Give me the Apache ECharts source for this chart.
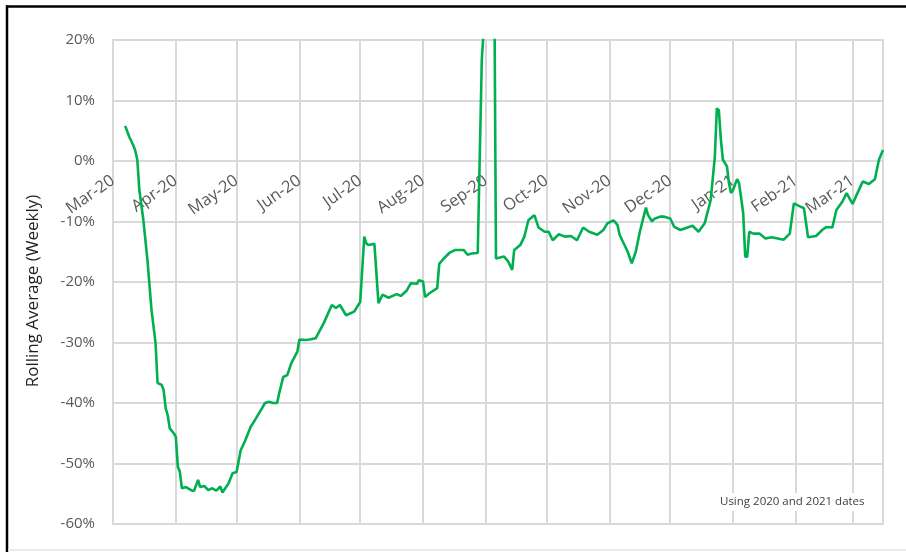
<!DOCTYPE html>
<html>
<head>
<meta charset="utf-8">
<script src="https://cdn.jsdelivr.net/npm/echarts@6/dist/echarts.min.js"></script>
<style>
html,body{margin:0;padding:0;background:#fff;}
#chart{width:906px;height:552px;}
</style>
</head>
<body>
<div id="chart"></div>
<script>
// ---- data ----
const dates = [
 '2020-03-07','2020-03-09','2020-03-11','2020-03-12','2020-03-13','2020-03-14','2020-03-16','2020-03-18','2020-03-20','2020-03-22',
 '2020-03-23','2020-03-25','2020-03-26','2020-03-27','2020-03-28','2020-03-29','2020-03-31','2020-04-01','2020-04-02','2020-04-03',
 '2020-04-04','2020-04-06','2020-04-09','2020-04-10','2020-04-12','2020-04-13','2020-04-15','2020-04-17','2020-04-19','2020-04-21',
 '2020-04-23','2020-04-24','2020-04-27','2020-04-29','2020-05-01','2020-05-03','2020-05-05','2020-05-08','2020-05-09','2020-05-14',
 '2020-05-15','2020-05-17','2020-05-19','2020-05-21','2020-05-22','2020-05-24','2020-05-26','2020-05-28','2020-05-31','2020-06-01',
 '2020-06-04','2020-06-06','2020-06-09','2020-06-13','2020-06-17','2020-06-19','2020-06-21','2020-06-24','2020-06-26','2020-06-28',
 '2020-07-01','2020-07-03','2020-07-04','2020-07-05','2020-07-08','2020-07-10','2020-07-12','2020-07-15','2020-07-19','2020-07-21',
 '2020-07-24','2020-07-26','2020-07-29','2020-07-30','2020-08-01','2020-08-02','2020-08-04','2020-08-08','2020-08-09','2020-08-11',
 '2020-08-14','2020-08-17','2020-08-21','2020-08-23','2020-08-25','2020-08-28','2020-08-30','2020-08-31','2020-09-01','2020-09-03',
 '2020-09-05','2020-09-06','2020-09-10','2020-09-12','2020-09-14','2020-09-15','2020-09-18','2020-09-20','2020-09-22','2020-09-24',
 '2020-09-25','2020-09-27','2020-09-30','2020-10-02','2020-10-04','2020-10-07','2020-10-10','2020-10-13','2020-10-16','2020-10-19',
 '2020-10-22','2020-10-26','2020-10-29','2020-10-31','2020-11-03','2020-11-05','2020-11-06','2020-11-10','2020-11-12','2020-11-14',
 '2020-11-16','2020-11-19','2020-11-20','2020-11-22','2020-11-23','2020-11-26','2020-11-28','2020-12-01','2020-12-03','2020-12-06',
 '2020-12-12','2020-12-15','2020-12-18','2020-12-21','2020-12-23','2020-12-24','2020-12-25','2020-12-26','2020-12-27','2020-12-29',
 '2020-12-30','2020-12-31','2021-01-01','2021-01-03','2021-01-04','2021-01-06','2021-01-07','2021-01-08','2021-01-09','2021-01-11',
 '2021-01-14','2021-01-17','2021-01-20','2021-01-23','2021-01-26','2021-01-29','2021-01-31','2021-02-03','2021-02-05','2021-02-07',
 '2021-02-11','2021-02-14','2021-02-16','2021-02-19','2021-02-21','2021-02-24','2021-02-26','2021-03-01','2021-03-03','2021-03-06',
 '2021-03-09','2021-03-12','2021-03-14','2021-03-16'
];
const rollingAvg = [
 5.8,4.0,2.6,1.7,0.2,-4.8,-9.8,-16.4,-24.6,-30.1,
 -36.7,-37.0,-37.9,-40.9,-42.0,-44.2,-45.0,-45.6,-50.5,-51.4,
 -54.1,-53.9,-54.5,-54.5,-52.7,-53.9,-53.7,-54.4,-54.1,-54.5,
 -53.8,-54.8,-53.3,-51.6,-51.4,-47.8,-46.4,-43.9,-43.4,-40.6,
 -40.0,-39.8,-40.0,-40.0,-38.4,-35.7,-35.4,-33.4,-31.5,-29.5,
 -29.6,-29.5,-29.3,-26.8,-23.8,-24.3,-23.8,-25.5,-25.2,-24.9,
 -23.3,-12.5,-13.6,-13.9,-13.7,-23.5,-22.1,-22.6,-22.0,-22.3,
 -21.4,-20.2,-20.3,-19.7,-19.9,-22.5,-21.9,-21.0,-17.0,-16.2,
 -15.2,-14.7,-14.7,-15.5,-15.3,-15.2,16.7,22.0,45.0,48.0,
 40.0,-16.1,-15.8,-16.6,-18.0,-14.7,-13.9,-12.5,-9.8,-9.2,
 -9.0,-11.0,-11.7,-11.7,-13.1,-12.1,-12.5,-12.4,-13.1,-11.0,
 -11.7,-12.2,-11.4,-10.3,-9.8,-10.6,-12.2,-15.0,-16.9,-15.0,
 -11.7,-7.7,-8.9,-10.0,-9.6,-9.2,-9.2,-9.5,-10.9,-11.4,
 -10.7,-11.7,-10.3,-6.4,0.7,8.7,8.4,3.5,0.2,-0.9,
 -3.7,-5.3,-4.8,-3.0,-3.7,-8.6,-15.8,-15.8,-11.7,-12.0,
 -12.0,-12.8,-12.6,-12.8,-13.0,-12.0,-7.0,-7.5,-7.8,-12.6,
 -12.4,-11.4,-10.9,-11.0,-8.1,-6.7,-5.3,-7.1,-5.6,-3.4,
 -3.8,-3.0,0.2,1.8
];
const tickDates = ['2020-03-01','2020-04-01','2020-05-01','2020-06-01','2020-07-01','2020-08-01','2020-09-01',
                   '2020-10-01','2020-11-01','2020-12-01','2021-01-01','2021-02-01','2021-03-01'];
const tickLabels = ['Mar-20','Apr-20','May-20','Jun-20','Jul-20','Aug-20','Sep-20',
                    'Oct-20','Nov-20','Dec-20','Jan-21','Feb-21','Mar-21'];
const xMin = '2020-03-01';
const xMax = '2021-03-16';
const yTicks = {min: -60, max: 20, interval: 10};
const yTitle = 'Rolling Average (Weekly)';
const noteText = 'Using 2020 and 2021 dates';

// ---- chart ----
// x positions are day numbers counted from xMin (UTC, so no DST shifts)
function dayNum(s) {
  const p = s.split('-').map(Number);
  const q = xMin.split('-').map(Number);
  return Math.round((Date.UTC(p[0], p[1] - 1, p[2]) - Date.UTC(q[0], q[1] - 1, q[2])) / 86400000);
}
const tickDays = tickDates.map(dayNum);
const seriesData = dates.map((d, i) => [dayNum(d), rollingAvg[i]]);
const gridColor = '#d9d9d9';
const font = '"Open Sans", "DejaVu Sans", sans-serif';

const gridTop = 40, gridBottom = 28, chartH = 552;
const plotH = chartH - gridTop - gridBottom;
// the category labels sit on the 0% line, as in the reference
const zeroOffset = -plotH * (0 - yTicks.min) / (yTicks.max - yTicks.min);

const chart = echarts.init(document.getElementById('chart'), null, {renderer: 'canvas'});
chart.setOption({
  animation: false,
  backgroundColor: '#ffffff',
  grid: {left: 113, top: gridTop, right: 23, bottom: gridBottom, show: true, borderColor: gridColor, borderWidth: 2, containLabel: false},
  xAxis: {
    type: 'value',
    min: 0,
    max: dayNum(xMax),
    position: 'bottom',
    offset: zeroOffset,
    axisLine: {show: false, onZero: false},
    axisTick: {show: false, customValues: tickDays},
    axisLabel: {
      customValues: tickDays,
      rotate: 35,
      margin: 18,
      color: '#595959',
      fontSize: 16.5,
      fontFamily: font,
      formatter: function (v) {
        const idx = tickDays.indexOf(Math.round(v));
        return idx >= 0 ? tickLabels[idx] : '';
      }
    },
    splitLine: {show: true, lineStyle: {color: gridColor, width: 2}}
  },
  yAxis: {
    type: 'value',
    min: yTicks.min,
    max: yTicks.max,
    interval: yTicks.interval,
    name: yTitle,
    nameLocation: 'middle',
    nameRotate: 90,
    nameGap: 71,
    nameTextStyle: {color: '#1f1f1f', fontSize: 17, fontFamily: font, padding: [0, 18, 0, 0]},
    axisLine: {show: false, onZero: false},
    axisTick: {show: false},
    axisLabel: {color: '#595959', fontSize: 15, fontFamily: font, margin: 18, formatter: '{value}%'},
    splitLine: {show: true, lineStyle: {color: gridColor, width: 2}}
  },
  series: [{
    type: 'line',
    data: seriesData,
    showSymbol: false,
    symbol: 'none',
    clip: true,
    lineStyle: {color: '#00b050', width: 2.6},
    z: 5
  }],
  graphic: [
    {type: 'line', shape: {x1: 6, y1: 6.5, x2: 906, y2: 6.5}, style: {stroke: '#000', lineWidth: 2.5}, z: 100},
    {type: 'line', shape: {x1: 7, y1: 5.5, x2: 7, y2: 552}, style: {stroke: '#000', lineWidth: 2.5}, z: 100},
    {type: 'line', shape: {x1: 8, y1: 550, x2: 906, y2: 550}, style: {stroke: '#e6e6e6', lineWidth: 1.5}, z: 100},
    {type: 'text', left: 717, top: 493, z: 50,
     style: {text: noteText, fill: '#404040', fontSize: 11.5, fontFamily: '"Liberation Sans Narrow", "Open Sans", sans-serif',
             backgroundColor: '#ffffff', padding: [3, 3]}}
  ]
});
</script>
</body>
</html>
